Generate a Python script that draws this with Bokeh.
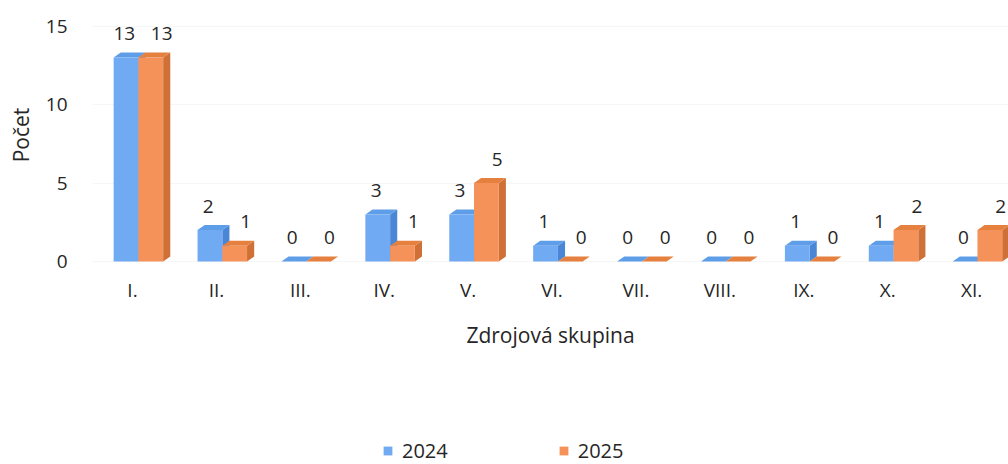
from bokeh.plotting import figure
from bokeh.layouts import column
from bokeh.models import Range1d, FixedTicker, Legend, LegendItem, ColumnDataSource
from bokeh.embed import file_html
from bokeh.resources import INLINE
from bokeh.core.properties import value

# ---- data ----
categories = ["I.", "II.", "III.", "IV.", "V.", "VI.", "VII.", "VIII.", "IX.", "X.", "XI."]
values_2024 = [13, 2, 0, 3, 3, 1, 0, 0, 1, 1, 0]
values_2025 = [13, 1, 0, 1, 5, 0, 0, 0, 0, 2, 2]
series_names = ["2024", "2025"]
y_ticks = [0, 5, 10, 15]

# ---- style ----
FONT = "Open Sans"
TXT = "#262626"
BAR_W = 0.295      # width of one bar front (category units)
SHIFT = 0.07       # offset of the bar pair centre from the category tick
DX = 0.085         # 3D depth, x (category units)
DY = 0.32          # 3D depth, y (value units)
LABEL_DX = [-0.02, 0.13]   # data-label horizontal nudge per series
COLORS = {
    "2024": {"front": "#70aaf2", "side": "#4a86d6", "top": "#5e9de8"},
    "2025": {"front": "#f4925a", "side": "#cf7036", "top": "#e5803f"},
}

p = figure(width=1008, height=360, output_backend="svg", toolbar_location=None,
           x_range=Range1d(-0.477, 10.44), y_range=Range1d(-0.382, 16.497),
           min_border_left=92, min_border_right=0, min_border_top=2,
           min_border_bottom=93)
p.outline_line_color = None
p.background_fill_color = "white"

front_renderers = []
for k, (name, vals) in enumerate(zip(series_names, [values_2024, values_2025])):
    c = COLORS[name]
    x0 = [i + SHIFT - BAR_W + k * BAR_W for i in range(len(categories))]
    x1 = [a + BAR_W for a in x0]
    side_xs = [[b, b + DX, b + DX, b] for b in x1]
    side_ys = [[0, DY, v + DY, v] for v in vals]
    top_xs = [[a, a + DX, b + DX, b] for a, b in zip(x0, x1)]
    top_ys = [[v, v + DY, v + DY, v] for v in vals]
    p.patches(side_xs, side_ys, fill_color=c["side"], line_color=None)
    p.patches(top_xs, top_ys, fill_color=c["top"], line_color=None)
    src = ColumnDataSource(dict(left=x0, right=x1, top=vals, bottom=[0] * len(vals)))
    r = p.quad(left="left", right="right", top="top", bottom="bottom", source=src,
               fill_color=c["front"], line_color=None)
    front_renderers.append(r)
    lab = ColumnDataSource(dict(x=[(a + b) / 2 + LABEL_DX[k] for a, b in zip(x0, x1)],
                                y=vals, t=[str(v) for v in vals]))
    p.text(x="x", y="y", text="t", source=lab, text_align="center",
           text_baseline="middle", y_offset=-24, text_color=TXT,
           text_font=value(FONT), text_font_size="19px")

# axes
p.xaxis.ticker = FixedTicker(ticks=list(range(len(categories))))
p.xaxis.major_label_overrides = {i: c for i, c in enumerate(categories)}
p.yaxis.ticker = FixedTicker(ticks=y_ticks)
for ax in (p.xaxis[0], p.yaxis[0]):
    ax.axis_line_color = None
    ax.major_tick_line_color = None
    ax.minor_tick_line_color = None
    ax.major_tick_out = 0
    ax.major_tick_in = 0
    ax.minor_tick_out = 0
    ax.major_label_text_font = FONT
    ax.major_label_text_font_size = "19px"
    ax.major_label_text_color = TXT
    ax.axis_label_text_font = FONT
    ax.axis_label_text_font_size = "21px"
    ax.axis_label_text_font_style = "normal"
    ax.axis_label_text_color = TXT
p.xaxis.axis_label = "Zdrojová skupina"
p.yaxis.axis_label = "Počet"
p.xaxis.major_label_standoff = 9
p.xaxis.axis_label_standoff = 15
p.yaxis.major_label_standoff = 25
p.yaxis.axis_label_standoff = 8

p.xgrid.grid_line_color = None
p.ygrid.ticker = FixedTicker(ticks=y_ticks)
p.ygrid.grid_line_color = "#f6f6f6"

# ---- legend strip below the chart ----
lf = figure(width=1008, height=104, output_backend="svg", toolbar_location=None,
            x_range=Range1d(0, 1), y_range=Range1d(0, 1),
            x_axis_type=None, y_axis_type=None,
            min_border_left=0, min_border_right=0, min_border_top=0, min_border_bottom=0)
lf.outline_line_color = None
lf.xgrid.visible = False
lf.ygrid.visible = False
# hidden swatch glyphs (outside the strip's ranges) that only feed the legend
swatch = ColumnDataSource(dict(left=[-3], right=[-2], top=[-2], bottom=[-3]))
legend_glyphs = []
for name in series_names:
    g = lf.quad(left="left", right="right", top="top", bottom="bottom", source=swatch,
                fill_color=COLORS[name]["front"], line_color=None)
    legend_glyphs.append(g)
legend = Legend(items=[LegendItem(label=n, renderers=[g]) for n, g in zip(series_names, legend_glyphs)],
                orientation="horizontal", location=(290, 0),
                border_line_color=None, background_fill_alpha=0,
                padding=0, margin=0, spacing=110, label_standoff=9,
                glyph_width=11, glyph_height=11,
                label_text_font=FONT, label_text_font_size="20px",
                label_text_color=TXT)
lf.add_layout(legend, "center")

layout = column(p, lf, spacing=0)
open("out.html", "w").write(file_html(layout, INLINE))
